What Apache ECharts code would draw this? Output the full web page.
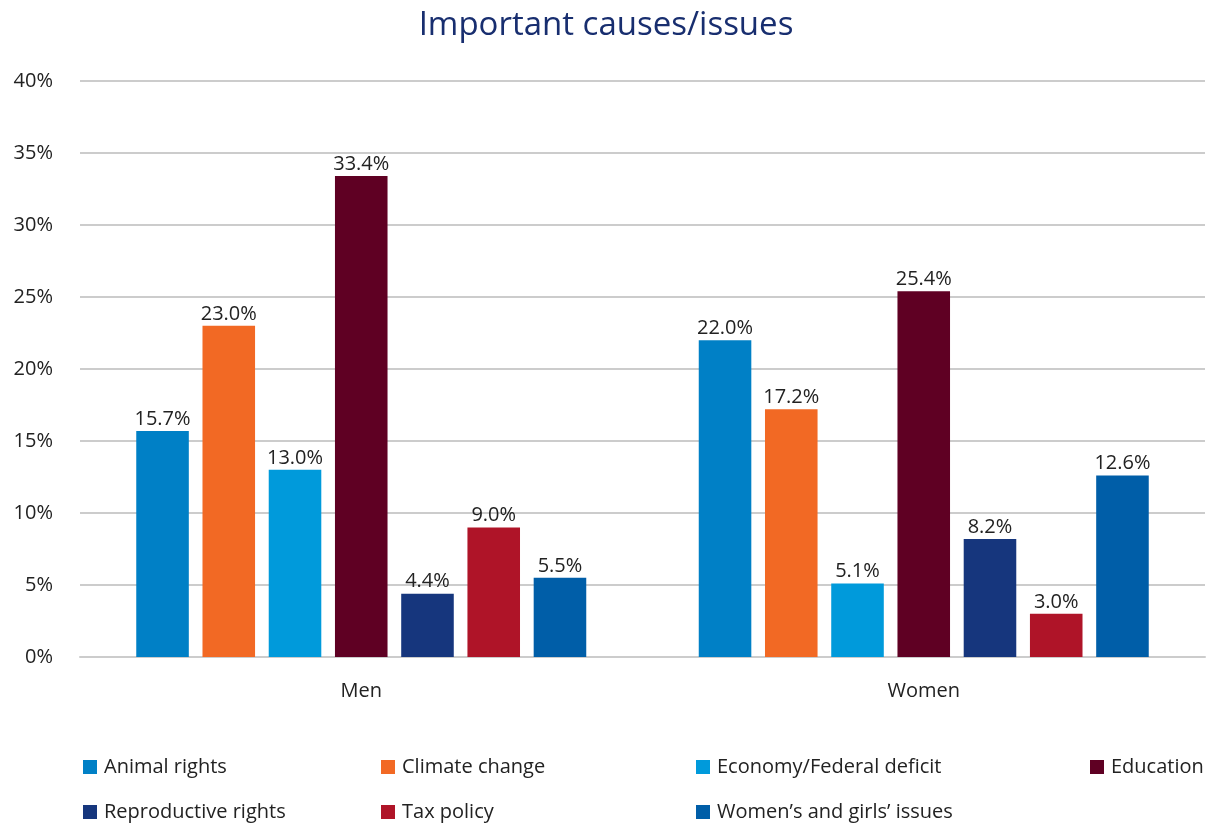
<!DOCTYPE html>
<html>
<head>
<meta charset="utf-8">
<script src="https://cdn.jsdelivr.net/npm/echarts@6/dist/echarts.min.js"></script>
<style>
  html, body { margin: 0; padding: 0; background: #fff; }
  #container { width: 1212px; height: 825px; }
</style>
</head>
<body>
<div id="container"></div>
<script>
var categories = ['Men', 'Women'];
var seriesNames = ['Animal rights', 'Climate change', 'Economy/Federal deficit', 'Education',
    'Reproductive rights', 'Tax policy', 'Women\u2019s and girls\u2019 issues'];
var animalRights = [15.7, 22.0];
var climateChange = [23.0, 17.2];
var economyDeficit = [13.0, 5.1];
var education = [33.4, 25.4];
var reproductiveRights = [4.4, 8.2];
var taxPolicy = [9.0, 3.0];
var womensIssues = [5.5, 12.6];
var colors = ['#0080c6', '#f26924', '#009adb', '#5f0023', '#16367d', '#af1428', '#005ea8'];

var font = '"Open Sans", "Noto Sans", sans-serif';

(function() {
    var dom = document.getElementById('container');
    var myChart = echarts.init(dom);
    var allData = [animalRights, climateChange, economyDeficit, education, reproductiveRights, taxPolicy, womensIssues];

    // legend positions (two rows)
    var legendPos = [
        { left: 78, top: 752 }, { left: 376, top: 752 }, { left: 691, top: 752 }, { left: 1085, top: 752 },
        { left: 78, top: 797 }, { left: 376, top: 797 }, { left: 691, top: 797 }
    ];

    var legends = [];
    var series = [];
    for (var i = 0; i < seriesNames.length; i++) {
        legends.push({
            data: [seriesNames[i]],
            left: legendPos[i].left,
            top: legendPos[i].top,
            icon: 'rect',
            itemWidth: 14,
            itemHeight: 14,
            itemGap: 0,
            textStyle: { fontFamily: font, fontSize: 20, color: '#222', padding: [0, 0, 0, 2] }
        });
        series.push({
            name: seriesNames[i],
            type: 'bar',
            data: allData[i],
            barGap: '26%',
            barCategoryGap: '20%',
            itemStyle: { color: colors[i] },
            label: {
                show: true,
                position: 'top',
                distance: 2,
                formatter: function(p) { return p.value.toFixed(1) + '%'; },
                fontFamily: font,
                fontSize: 20,
                color: '#222'
            }
        });
    }

    var option = {
        animation: false,
        title: {
            text: 'Important causes/issues',
            left: 'center',
            top: 4,
            textStyle: { fontFamily: font, fontSize: 33, fontWeight: 'normal', color: '#182e6f' }
        },
        legend: legends,
        grid: { left: 80, right: 7, top: 81, bottom: 168 },
        xAxis: {
            type: 'category',
            data: categories,
            axisTick: { show: false },
            axisLine: { lineStyle: { color: '#ccc', width: 2 } },
            axisLabel: { fontFamily: font, fontSize: 20, color: '#222', margin: 24 }
        },
        yAxis: {
            type: 'value',
            min: 0,
            max: 40,
            interval: 5,
            axisLabel: { formatter: '{value}%', fontFamily: font, fontSize: 20, color: '#222', margin: 27 },
            splitLine: { lineStyle: { color: '#ccc', width: 2 } },
            axisLine: { show: false },
            axisTick: { show: false }
        },
        series: series
    };
    myChart.setOption(option, true);
})();
</script>
</body>
</html>
